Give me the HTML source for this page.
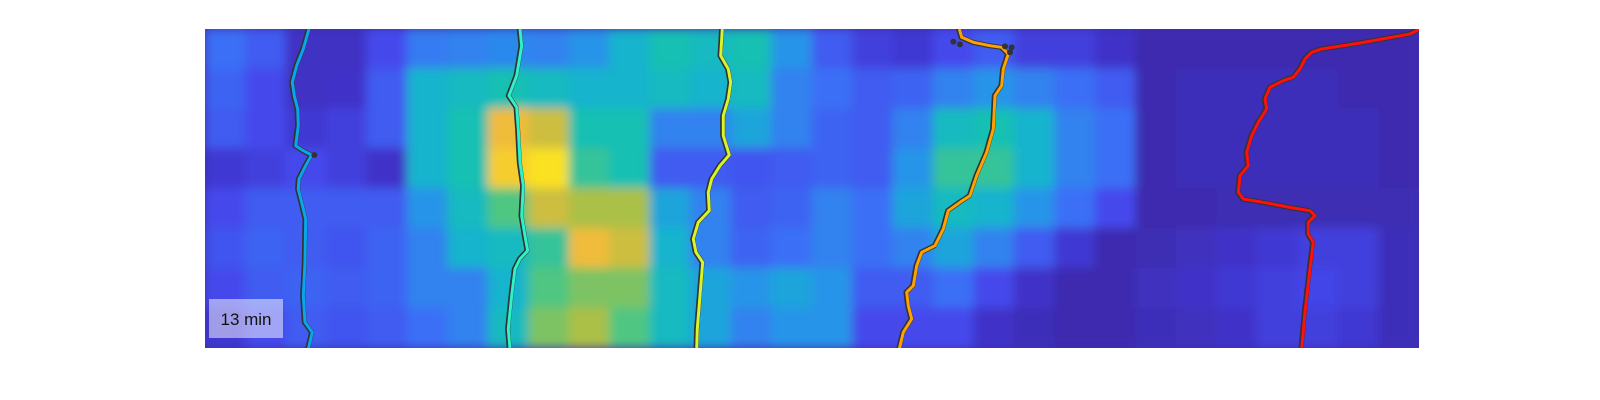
<!DOCTYPE html>
<html><head><meta charset="utf-8"><style>
html,body{margin:0;padding:0;background:#fff;width:1600px;height:400px;overflow:hidden}
svg{display:block}
</style></head><body>
<svg id="chart" width="1600" height="400" viewBox="0 0 1600 400" xmlns="http://www.w3.org/2000/svg">
<defs>
<clipPath id="plotclip"><rect x="205" y="29" width="1214" height="319"/></clipPath>
<filter id="blur" x="-5%" y="-5%" width="110%" height="110%"><feGaussianBlur stdDeviation="5" edgeMode="duplicate"/></filter>
</defs>
<rect x="205" y="29" width="1214" height="319" fill="#3d2fb0"/>
<g clip-path="url(#plotclip)"><g id="cells" filter="url(#blur)"></g></g>
<g id="tracks" clip-path="url(#plotclip)"></g>
<rect x="209" y="299" width="74" height="39" fill="#ffffff" fill-opacity="0.5"/>
<text x="246" y="325" text-anchor="middle" font-family="Liberation Sans, sans-serif" font-size="17" fill="#111">13 min</text>
</svg>
<script>
const NS='http://www.w3.org/2000/svg';
const row0=[0.25,0.2,0.07,0.07,0.15,0.28,0.3,0.32,0.3,0.35,0.45,0.55,0.5,0.55,0.35,0.2,0.12,0.1,0.15,0.2,0.12,0.12,0.08,0.03,0.03,0.03,0.03,0.03,0.03,0.03];
const row1=[0.22,0.15,0.07,0.08,0.2,0.45,0.5,0.55,0.5,0.45,0.45,0.5,0.45,0.5,0.3,0.25,0.2,0.22,0.3,0.35,0.3,0.25,0.2,0.03,0.05,0.05,0.05,0.05,0.03,0.03];
const row2=[0.2,0.15,0.1,0.12,0.2,0.45,0.55,0.85,0.8,0.55,0.55,0.3,0.3,0.4,0.3,0.22,0.2,0.3,0.5,0.55,0.45,0.3,0.25,0.03,0.05,0.05,0.05,0.05,0.05,0.03];
const row3=[0.1,0.12,0.15,0.12,0.08,0.45,0.55,0.9,0.95,0.6,0.55,0.2,0.2,0.18,0.2,0.22,0.2,0.35,0.6,0.6,0.45,0.3,0.25,0.03,0.05,0.05,0.05,0.05,0.05,0.03];
const row4=[0.15,0.2,0.2,0.2,0.2,0.35,0.5,0.65,0.8,0.75,0.75,0.4,0.3,0.2,0.22,0.3,0.25,0.4,0.5,0.45,0.35,0.25,0.15,0.03,0.03,0.04,0.04,0.04,0.04,0.04];
const row5=[0.18,0.22,0.2,0.18,0.22,0.3,0.45,0.5,0.6,0.85,0.8,0.45,0.3,0.22,0.25,0.3,0.25,0.3,0.4,0.3,0.2,0.1,0.03,0.04,0.06,0.08,0.1,0.12,0.12,0.05];
const row6=[0.15,0.2,0.22,0.2,0.22,0.3,0.3,0.45,0.65,0.7,0.7,0.5,0.4,0.35,0.4,0.35,0.2,0.2,0.25,0.15,0.08,0.03,0.03,0.06,0.08,0.1,0.12,0.14,0.12,0.05];
const row7=[0.1,0.15,0.2,0.18,0.2,0.25,0.3,0.5,0.7,0.75,0.65,0.5,0.4,0.3,0.35,0.35,0.15,0.15,0.15,0.08,0.05,0.03,0.03,0.05,0.06,0.08,0.12,0.12,0.1,0.05];
const grid=[row0,row1,row2,row3,row4,row5,row6,row7];
// track data in crop-units (x offset per panel, 1/3 px units)
const track1=[[312,0],[295,60],[275,110],[262,160],[268,200],[278,240],[280,290],[272,350],[295,365],[320,378],[302,410],[282,450],[280,480],[295,540],[302,570],[300,700],[295,800],[300,880],[322,910],[310,960]];
const track2=[[945,0],[950,50],[935,140],[912,200],[935,235],[940,300],[945,400],[955,470],[950,560],[960,620],[968,665],[945,690],[930,720],[920,800],[910,900],[915,960]];
const track3=[[337,0],[332,80],[355,120],[362,160],[355,210],[340,260],[340,320],[358,378],[330,410],[305,450],[295,490],[298,545],[265,580],[250,630],[258,670],[278,700],[270,800],[262,900],[260,960]];
const track4=[[1048,0],[1055,25],[1090,40],[1140,50],[1175,55],[1195,75],[1180,120],[1175,170],[1155,200],[1150,300],[1130,370],[1100,440],[1080,500],[1050,520],[1015,545],[1000,600],[975,650],[935,670],[920,710],[910,770],[890,790],[895,830],[905,870],[880,910],[868,960]];
const track5=[[1230,0],[1200,15],[1050,42],[935,60],[905,70],[885,90],[870,120],[850,145],[820,155],[780,175],[765,210],[770,240],[745,280],[725,320],[710,370],[715,410],[690,440],[685,490],[700,510],[760,520],[850,537],[900,545],[915,560],[895,580],[895,615],[910,640],[900,720],[885,850],[875,960]];
const trackColors=['#0aa6ea','#2ef2c8','#d6f52c','#ffa200','#ff1010'];
const trackPanels=[205,205,610,610,1010];
const dots1=[[328,378]];
const dots4=[[1030,38],[1050,46],[1185,52],[1205,55],[1200,70]];

const X0=205,Y0=29,W=1214,H=319;
const cw=W/grid[0].length, ch=H/grid.length;
const xs=(p,v)=>p+v/3, ys=v=>29+v/3;
const stops=[[0,[58,40,160]],[0.08,[64,50,200]],[0.15,[68,72,236]],[0.25,[58,112,246]],[0.35,[38,148,232]],[0.45,[22,180,205]],[0.55,[24,192,178]],[0.65,[80,198,130]],[0.75,[170,192,70]],[0.85,[240,188,58]],[0.93,[250,215,40]],[1,[249,251,14]]];
function parula(v){v=Math.max(0,Math.min(1,v));for(let i=1;i<stops.length;i++){if(v<=stops[i][0]){const a=stops[i-1],b=stops[i],t=(v-a[0])/(b[0]-a[0]);return 'rgb('+a[1].map((c,k)=>Math.round(c+(b[1][k]-c)*t)).join(',')+')';}}return 'rgb(249,251,14)';}
const cells=document.getElementById('cells');
grid.forEach((row,r)=>row.forEach((v,c)=>{
 const el=document.createElementNS(NS,'rect');
 el.setAttribute('x',X0+c*cw-0.5);el.setAttribute('y',Y0+r*ch-0.5);
 el.setAttribute('width',cw+1);el.setAttribute('height',ch+1);
 el.setAttribute('fill',parula(v));
 
 
 cells.appendChild(el);
}));
const tg=document.getElementById('tracks');
[track1,track2,track3,track4,track5].forEach((pts,i)=>{
 const p=trackPanels[i];
 const d=pts.map((q,k)=>(k?'L':'M')+xs(p,q[0]).toFixed(1)+' '+ys(q[1]).toFixed(1)).join(' ');
 const o=document.createElementNS(NS,'path');
 o.setAttribute('d',d);o.setAttribute('fill','none');o.setAttribute('stroke','#333');o.setAttribute('stroke-width','5');o.setAttribute('stroke-linejoin','round');o.setAttribute('stroke-linecap','round');
 o.setAttribute('transform','translate(-0.7,0)');
 
 
 tg.appendChild(o);
 const l=document.createElementNS(NS,'path');
 l.setAttribute('d',d);l.setAttribute('fill','none');l.setAttribute('stroke',trackColors[i]);l.setAttribute('stroke-width','3');l.setAttribute('stroke-linejoin','round');
 
 
 tg.appendChild(l);
});
[[dots1,205],[dots4,610]].forEach(([ds,p])=>ds.forEach(q=>{
 const c=document.createElementNS(NS,'circle');
 c.setAttribute('cx',xs(p,q[0]));c.setAttribute('cy',ys(q[1]));c.setAttribute('r','3');c.setAttribute('fill','#333');
 
 
 tg.appendChild(c);
}));
</script>
</body></html>
